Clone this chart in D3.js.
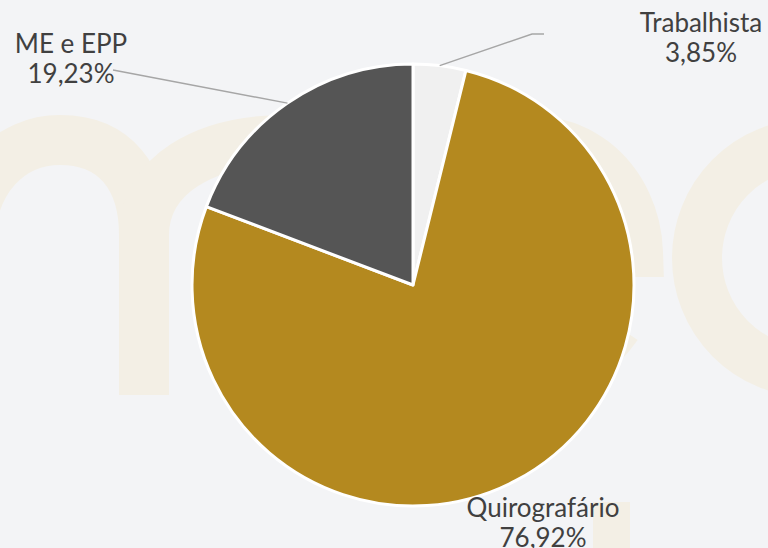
<!DOCTYPE html>
<html>
<head>
<meta charset="utf-8">
<script src="https://cdn.jsdelivr.net/npm/d3@7"></script>
<style>
  html, body { margin: 0; padding: 0; background: #f3f4f6; }
  svg { display: block; }
</style>
</head>
<body>
<div id="chart"></div>
<script>
// chart data
const categories = ["Trabalhista", "Quirografário", "ME e EPP"];
const shares = [3.85, 76.92, 19.23];
const colors = ["#f0f0f0", "#b4891f", "#555555"];

const width = 768, height = 548;
const cx = 413, cy = 285, radius = 221;

// pt-BR number format (comma decimal)
const ptBR = d3.formatLocale({decimal: ",", thousands: ".", grouping: [3], currency: ["R$", ""]});
const pct = ptBR.format(".2%");

const svg = d3.select("#chart")
    .append("svg")
    .attr("width", width)
    .attr("height", height)

svg.append("rect")
    .attr("width", width)
    .attr("height", height)
    .attr("fill", "#f3f4f6")

// faint watermark letters behind the pie
const wm = svg.append("g")
    .attr("fill", "none")
    .attr("stroke", "#f3efe5")
    .attr("stroke-width", 50)

wm.append("path").attr("d", "M -30,400 L -30,245 C -30,180 10,140 60,140 C 115,140 144,178 144,235 L 144,395")
wm.append("path").attr("d", "M 144,395 L 144,235 C 144,175 205,140 285,140 C 345,140 378,182 378,245 L 378,395")
wm.append("path").attr("d", "M 420,252 L 638,252 A 103 115 0 1 0 617,326")
wm.append("ellipse").attr("cx", 810).attr("cy", 258).attr("rx", 113).attr("ry", 114)
svg.append("rect")
    .attr("x", 593).attr("y", 502)
    .attr("width", 37).attr("height", 50)
    .attr("fill", "#f3efe5")

// pie
const pie = d3.pie().sort(null).value(d => d)
const arcs = pie(shares)

const arc = d3.arc().innerRadius(0).outerRadius(radius)
const edge = d3.arc().innerRadius(radius).outerRadius(radius)

const g = svg.append("g").attr("transform", `translate(${cx},${cy})`)

g.selectAll("path")
    .data(arcs)
    .join("path")
    .attr("d", arc)
    .attr("fill", (d, i) => colors[i])
    .attr("stroke", "#ffffff")
    .attr("stroke-width", 3)
    .attr("stroke-linejoin", "round")

// label placement (label anchor, leader elbow)
const labelLayout = [
    {x: 701, y: 32, elbow: [532, 34], end: [544, 34]},
    {x: 543, y: 517, elbow: null, end: null},
    {x: 71, y: 53, elbow: null, end: [113, 70]}
]

arcs.forEach(function (d, i) {
    const L = labelLayout[i]
    const p = edge.centroid(d)
    const start = [cx + p[0], cy + p[1]]
    if (L.end) {
        const pts = L.elbow ? [start, L.elbow, L.end] : [start, L.end]
        svg.append("path")
            .attr("d", d3.line()(pts))
            .attr("fill", "none")
            .attr("stroke", "#a6a6a6")
            .attr("stroke-width", 1.5)
    }
})

const labels = svg.append("g")
    .attr("font-family", "Lato, 'Noto Sans', sans-serif")
    .attr("font-size", 26)
    .attr("fill", "#404040")
    .attr("text-anchor", "middle")

arcs.forEach(function (d, i) {
    const L = labelLayout[i]
    const t = labels.append("text").attr("x", L.x).attr("y", L.y)
    t.append("tspan").attr("x", L.x).text(categories[i])
    t.append("tspan").attr("x", L.x).attr("dy", 30).text(pct(d.value / 100))
})
</script>
</body>
</html>
